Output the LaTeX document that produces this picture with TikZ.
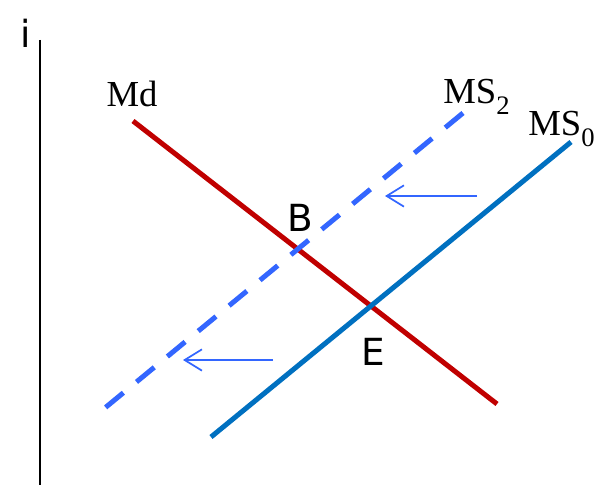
\documentclass[tikz,border=0pt]{standalone}
\usepackage{fontspec}
\setmainfont{Liberation Serif}
\setsansfont{DejaVu Sans}
\usetikzlibrary{arrows.meta}

\definecolor{mdred}{HTML}{C00000}
\definecolor{msblue}{HTML}{0070C0}
\definecolor{shiftblue}{HTML}{3366FF}

\newcommand{\lowsub}[1]{\raisebox{-0.28em}{\fontsize{20}{20}\selectfont #1}}

\tikzset{
  mdline/.style={mdred, line width=3.75pt},
  msline/.style={msblue, line width=3.75pt},
  msdash/.style={shiftblue, line width=3.75pt, dash pattern=on 17.25pt off 12.75pt},
  shiftarrow/.style={shiftblue, line width=1.3pt, -{Straight Barb[length=13pt,width=16pt,line width=1.3pt]}},
  curvelabel/.style={font=\fontsize{27.5}{27.5}\selectfont, inner sep=0pt},
  pointlabel/.style={font=\sffamily\fontsize{28}{28}\selectfont, inner sep=0pt}
}

\begin{document}
\begin{tikzpicture}[x=0.75pt,y=-0.75pt]
\useasboundingbox (0,0) rectangle (597,485);

% axis
\coordinate (top) at (40,40);
\coordinate (bottom) at (40,485);
\draw[line width=1.1pt] (top) -- (bottom);
\node[pointlabel] (ilabel) at (26,33) {i};

% money demand
\coordinate (md1) at (133,121);
\coordinate (md2) at (497,404);
\draw[mdline] (md1) -- (md2);
\node[curvelabel] (mdlabel) at (132,94) {Md};

% money supply, before and after
\coordinate (ms0a) at (211,437);
\coordinate (ms0b) at (571,142);
\draw[msline] (ms0a) -- (ms0b);
\node[curvelabel, anchor=base west] (ms0label) at (528,136) {MS\lowsub{0}};

\coordinate (ms2a) at (463,113);
\coordinate (ms2b) at (100,412);
\draw[msdash] (ms2a) -- (ms2b);
\node[curvelabel, anchor=base west] (ms2label) at (443,104) {MS\lowsub{2}};

% shift
\coordinate (s1a) at (477,196);
\coordinate (s1b) at (385,196);
\draw[shiftarrow] (s1a) -- (s1b);
\coordinate (s2a) at (273,360);
\coordinate (s2b) at (183,360);
\draw[shiftarrow] (s2a) -- (s2b);

% equilibria
\node[pointlabel] (B) at (300,218) {B};
\node[pointlabel] (E) at (373,352) {E};
\end{tikzpicture}
\end{document}
